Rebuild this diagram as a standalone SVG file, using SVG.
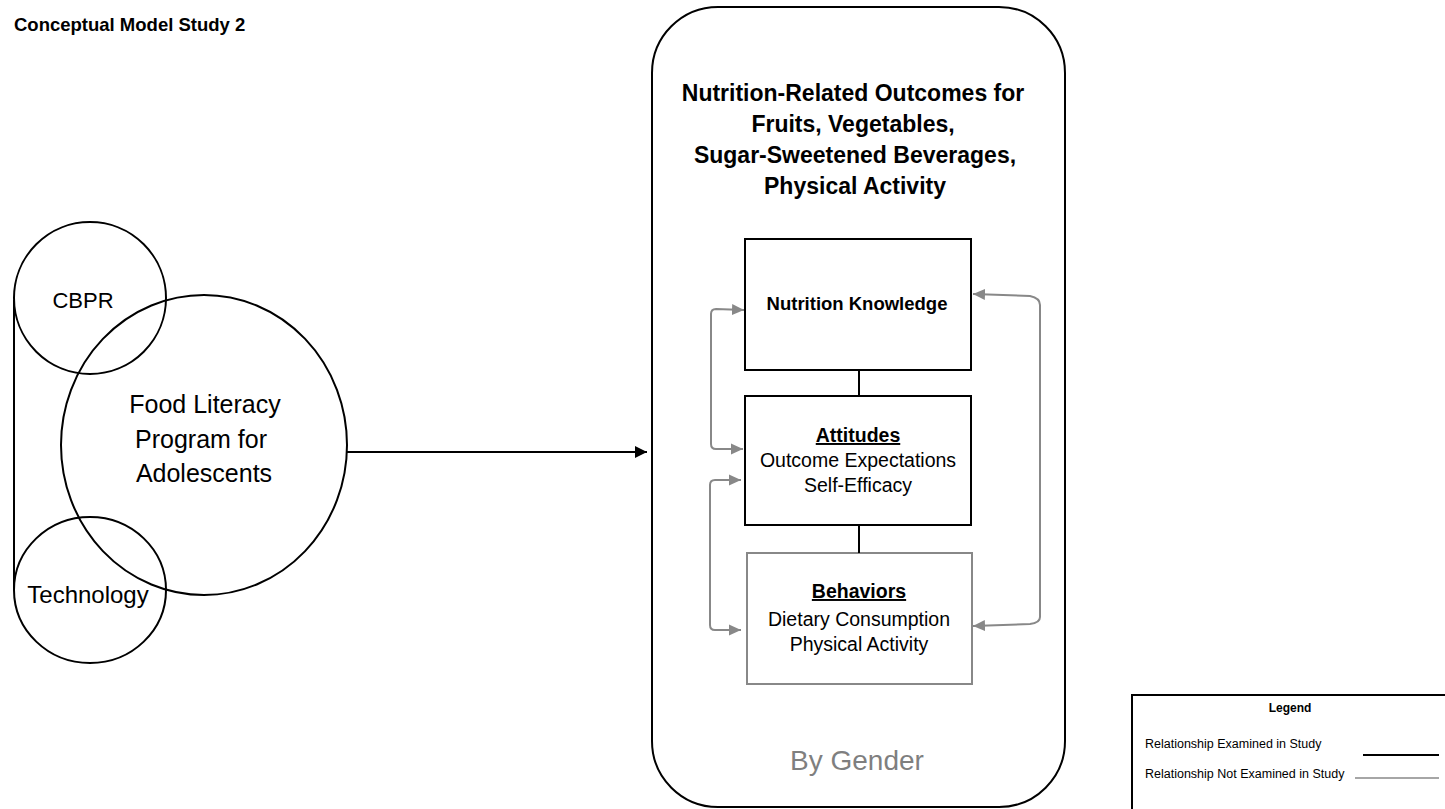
<svg xmlns="http://www.w3.org/2000/svg" width="1445" height="809" viewBox="0 0 1445 809">
<style>
text{font-family:"Liberation Sans",Arial,sans-serif;fill:#000}
.b{font-weight:bold}
.c{text-anchor:middle}
.shape{fill:none;stroke:#000;stroke-width:2}
.gray{fill:none;stroke:#888;stroke-width:2}
.blk{fill:none;stroke:#000;stroke-width:2}
.lg{font-size:12.5px}
</style>
<defs>
<marker id="ab" markerUnits="userSpaceOnUse" markerWidth="14" markerHeight="12" refX="12" refY="6" orient="auto"><path d="M0,0 L12,6 L0,12 Z" fill="#000"/></marker>
<marker id="ag" markerUnits="userSpaceOnUse" markerWidth="14" markerHeight="12" refX="12" refY="6" orient="auto-start-reverse"><path d="M0,0.5 L12,6 L0,11.5 Z" fill="#888"/></marker>
</defs>
<text x="14" y="31" class="b" font-size="18.5">Conceptual Model Study 2</text>

<g id="program">
<g id="cbpr"><circle cx="90" cy="298" r="76" class="shape"/><text x="83" y="308" class="c" font-size="22">CBPR</text></g>
<g id="food-literacy"><ellipse cx="204" cy="445" rx="143" ry="150" class="shape"/>
<text class="c" font-size="25"><tspan x="205" y="413">Food Literacy</tspan><tspan x="201" y="448">Program for</tspan><tspan x="204" y="482">Adolescents</tspan></text></g>
<g id="technology"><ellipse cx="90" cy="590" rx="76" ry="73" class="shape"/><text x="88" y="603" class="c" font-size="24">Technology</text></g>
</g>

<g id="outcomes">
<rect x="652" y="7" width="413" height="800" rx="66" ry="66" class="shape"/>
<text class="c b" font-size="23"><tspan x="853" y="101">Nutrition-Related Outcomes for</tspan><tspan x="853" y="132">Fruits, Vegetables,</tspan><tspan x="855" y="163">Sugar-Sweetened Beverages,</tspan><tspan x="855" y="194">Physical Activity</tspan></text>
<text x="857" y="770" class="c" font-size="28" style="fill:#7f7f7f">By Gender</text>
</g>

<g id="knowledge"><rect x="745" y="239" width="226" height="131" class="shape"/><text x="857" y="310" class="c b" font-size="18.5">Nutrition Knowledge</text></g>
<g id="attitudes"><rect x="745" y="396" width="226" height="129" class="shape"/>
<text class="c" font-size="19.5"><tspan x="858" y="442" font-weight="bold" text-decoration="underline">Attitudes</tspan><tspan x="858" y="467">Outcome Expectations</tspan><tspan x="858" y="492">Self-Efficacy</tspan></text></g>
<g id="behaviors"><rect x="747" y="553" width="225" height="131" class="gray"/>
<text class="c" font-size="19.5"><tspan x="859" y="598" font-weight="bold" text-decoration="underline">Behaviors</tspan><tspan x="859" y="626">Dietary Consumption</tspan><tspan x="859" y="651">Physical Activity</tspan></text></g>

<g id="connectors">
<line x1="14" y1="300" x2="14" y2="590" class="blk"/>
<path d="M346,452 H647" class="blk" marker-end="url(#ab)"/>
<line x1="859" y1="370" x2="859" y2="396" class="blk"/>
<line x1="859" y1="525" x2="859" y2="553" class="blk"/>
<path d="M744,310 L716,309 Q711,309 711,314 L711,444 Q711,449 716,449 L743,449" class="gray" marker-start="url(#ag)" marker-end="url(#ag)"/>
<path d="M741,480 L715,480 Q710,480 710,485 L710,625 Q710,630 715,630 L741,630" class="gray" marker-start="url(#ag)" marker-end="url(#ag)"/>
<path d="M973,294 L1030,296 Q1040,298 1040,305 L1040,617 Q1040,623 1030,624 L973,626" class="gray" marker-start="url(#ag)" marker-end="url(#ag)"/>
</g>

<g id="legend">
<rect x="1132" y="695" width="330" height="130" fill="#fff" stroke="#000" stroke-width="2"/>
<text x="1290" y="712" class="c b" font-size="12">Legend</text>
<text x="1145" y="748" class="lg">Relationship Examined in Study</text>
<line x1="1363" y1="755" x2="1439" y2="755" stroke="#000" stroke-width="2"/>
<text x="1145" y="778" class="lg">Relationship Not Examined in Study</text>
<line x1="1355" y1="778" x2="1439" y2="778" stroke="#888" stroke-width="1.5"/>
</g>
</svg>
